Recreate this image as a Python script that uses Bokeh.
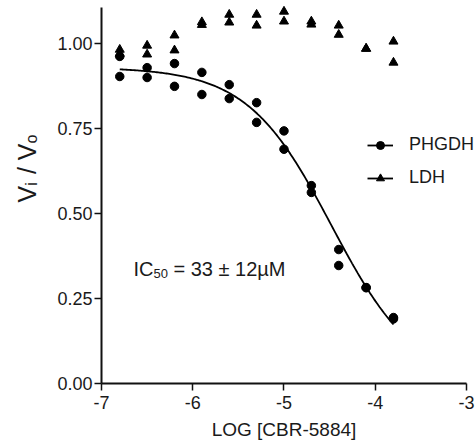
import numpy as np
from bokeh.plotting import figure
from bokeh.models import (Legend, LegendItem, Label, FixedTicker, NumeralTickFormatter, Range1d)
from bokeh.embed import file_html
from bokeh.resources import INLINE

# ---- data ----
phgdh_x = [-6.8, -6.8, -6.5, -6.5, -6.2, -6.2, -5.9, -5.9, -5.6, -5.6, -5.3, -5.3,
           -5.0, -5.0, -4.7, -4.7, -4.4, -4.4, -4.1, -4.1, -3.8, -3.8]
phgdh_y = [0.962, 0.903, 0.929, 0.900, 0.941, 0.874, 0.915, 0.850, 0.879, 0.838, 0.826, 0.768,
           0.743, 0.689, 0.582, 0.562, 0.394, 0.347, 0.282, 0.282, 0.194, 0.190]
ldh_x = [-6.8, -6.8, -6.5, -6.5, -6.2, -6.2, -5.9, -5.9, -5.6, -5.6, -5.3, -5.3,
         -5.0, -5.0, -4.7, -4.7, -4.4, -4.4, -4.1, -4.1, -3.8, -3.8]
ldh_y = [0.982, 0.970, 0.994, 0.968, 1.024, 0.980, 1.063, 1.055, 1.085, 1.062, 1.085, 1.053,
         1.094, 1.065, 1.065, 1.056, 1.053, 1.026, 0.985, 0.985, 1.006, 0.944]

# fitted 4-parameter logistic (PHGDH)
fit_top = 0.93
fit_bottom = 0.0
fit_log_ic50 = -4.48
fit_hill = 0.94
fit_x_start, fit_x_end = -6.8, -3.8

x_ticks = [-7, -6, -5, -4, -3]
x_tick_labels = ["-7", "-6", "-5", "-4", "-3"]
y_ticks = [0.0, 0.25, 0.5, 0.75, 1.0]
x_axis_bounds = (-7, -3)
y_axis_bounds = (0, 1.106)

FONT = "Liberation Sans"
TXT = "#1a1a1a"
NB = "\u00a0"

W, H = 475, 445
# frame covers the whole canvas; axes are placed at fixed data locations
p = figure(width=W, height=H, output_backend="svg", toolbar_location=None,
           x_range=Range1d(-8.107, -2.901), y_range=Range1d(-0.1824, 1.1265),
           min_border=0)
p.background_fill_color = "white"
p.border_fill_color = "white"
p.outline_line_color = None
p.grid.visible = False

fx = np.linspace(fit_x_start, fit_x_end, 200)
fy = fit_bottom + (fit_top - fit_bottom) / (1 + 10 ** ((fx - fit_log_ic50) * fit_hill))
curve = p.line(fx, fy, line_color="black", line_width=1.8)

phg = p.scatter(phgdh_x, phgdh_y, marker="circle", size=8.5, fill_color="black", line_color="black")
ldh = p.scatter(ldh_x, ldh_y, marker="triangle", size=9, fill_color="black", line_color="black")

for ax in (p.xaxis[0], p.yaxis[0]):
    ax.axis_line_width = 2
    ax.axis_line_color = "#111111"
    ax.major_tick_line_width = 1.5
    ax.major_tick_line_color = "#111111"
    ax.major_tick_in = 0
    ax.major_tick_out = 7
    ax.minor_tick_line_color = None
    ax.major_label_text_font = FONT
    ax.major_label_text_font_size = "18px"
    ax.major_label_text_color = TXT

p.xaxis.fixed_location = 0
p.yaxis.fixed_location = -7
p.xaxis.bounds = x_axis_bounds
p.yaxis.bounds = y_axis_bounds
p.xaxis.ticker = FixedTicker(ticks=x_ticks)
p.xaxis.major_label_overrides = dict(zip(x_ticks, x_tick_labels))
p.yaxis.ticker = FixedTicker(ticks=y_ticks)
p.yaxis.formatter = NumeralTickFormatter(format="0.00")
p.xaxis.major_label_standoff = 6
p.yaxis.major_label_standoff = 2
p.xaxis.axis_label = "LOG [CBR-5884]"
p.xaxis.axis_label_text_font = FONT
p.xaxis.axis_label_text_font_size = "19px"
p.xaxis.axis_label_text_font_style = "normal"
p.xaxis.axis_label_text_color = TXT
p.xaxis.axis_label_standoff = 6

def seq_labels(pieces, x0, y0, vertical):
    """Place text pieces one after another (pieces: text, size px, baseline shift px, advance em)."""
    pos = 0.0
    for text, size, shift, width in pieces:
        if vertical:
            lab = Label(x=x0 + shift, y=y0 + pos, x_units="screen", y_units="screen", text=text,
                        angle=90, angle_units="deg", text_align="left", text_baseline="alphabetic",
                        text_font=FONT, text_font_size=f"{size}px", text_color=TXT)
        else:
            lab = Label(x=x0 + pos, y=y0 - shift, x_units="screen", y_units="screen", text=text,
                        text_align="left", text_baseline="alphabetic",
                        text_font=FONT, text_font_size=f"{size}px", text_color=TXT)
        p.add_layout(lab)
        pos += width * size

# frame == canvas here; screen y measured from the bottom (H)
# y-axis label "Vi / Vo" (rotated, reading upward)
seq_labels([("V", 25, 0, 0.667), ("i", 16, 5, 0.30), (NB + "/" + NB + "V", 25, 0, 1.5),
            ("o", 16, 5, 0.556)],
           26, H - 202, True)

# IC50 annotation
seq_labels([("IC", 20, 0, 1.0), ("50", 13, 5, 1.112), (NB + "=" + NB + "33" + NB + "\u00b1" + NB + "12\u00b5M", 20, 0, 5.9)],
           133, H - 268, False)

legend = Legend(items=[LegendItem(label="PHGDH", renderers=[curve, phg]),
                       LegendItem(label="LDH", renderers=[curve, ldh])],
                location=(367, H - 188), orientation="vertical")
legend.border_line_alpha = 0
legend.background_fill_alpha = 0
legend.padding = 0
legend.margin = 0
legend.glyph_width = 26
legend.glyph_height = 20
legend.label_height = 20
legend.spacing = 12
legend.label_standoff = 16
legend.label_text_font = FONT
legend.label_text_font_size = "18px"
legend.label_text_color = TXT
p.add_layout(legend)

open("out.html", "w").write(file_html(p, INLINE))
